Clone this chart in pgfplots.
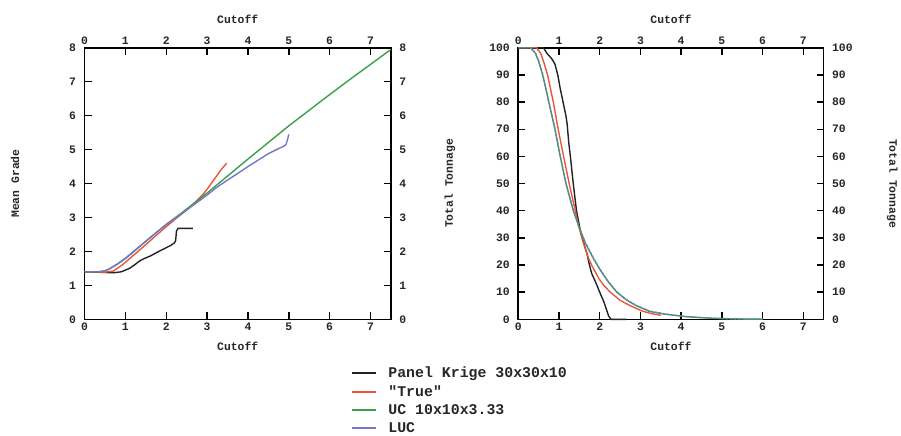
\documentclass[border=0pt]{standalone}
\usepackage{pgfplots}
\pgfplotsset{compat=1.18}
\usepackage{fontspec}
\setmainfont{Liberation Mono}
\setmonofont{Liberation Mono}
\definecolor{cblack}{RGB}{34,34,34}
\definecolor{cred}{RGB}{232,84,60}
\definecolor{cgreen}{RGB}{60,158,72}
\definecolor{cblue}{RGB}{118,118,200}
\pgfplotsset{
  base/.style={
    scale only axis, width=308bp, height=273bp,
    xmin=0, xmax=7.5,
    xtick={0,1,...,7},
    tick align=inside, major tick length=7bp,
    xtick pos=both, ytick pos=both,
    axis line style={line width=1.6bp, black},
    every tick/.style={line width=1.4bp, black},
    tick label style={font=\fontsize{11.5}{13}\selectfont\bfseries, text=black!85},
    yticklabel shift=5bp,
    /pgf/number format/assume math mode=true,
    clip=false,
  },
  labels2/.style={
    xticklabel pos=upper, yticklabel pos=right,
    axis line style={draw=none}, every tick/.style={draw=none},
  },
  every axis plot/.append style={line width=1.4bp},
}
\newcommand{\lab}{\fontsize{11.5}{13}\selectfont\bfseries}
\begin{document}
\begin{tikzpicture}
% ---------------- left panel ----------------
\begin{axis}[base, at={(85bp,112bp)}, anchor=south west,
  ymin=0, ymax=8, ytick={0,1,...,8},
  xticklabel pos=lower, yticklabel pos=left,
  legend style={at={(axis description cs:0.87,-0.17)}, anchor=north west,
    draw=none, fill=none, inner sep=0pt,
    font=\ttfamily\fontsize{15}{16}\selectfont\bfseries, text=black!85,
    row sep=3.5bp,
    nodes={inner sep=1.5bp},
    /tikz/every odd column/.append style={column sep=10bp}},
  legend cell align=left,
  legend image code/.code={\draw[#1, line width=1.8bp] (0bp,0bp) -- (24bp,0bp);},
]
\addplot[cblack] coordinates {(0,1.4)(0.5,1.38)(0.7,1.37)(0.9,1.4)(1.0,1.45)(1.1,1.5)(1.22,1.6)(1.35,1.72)(1.46,1.79)(1.6,1.86)(1.71,1.93)(1.85,2.02)(1.95,2.08)(2.1,2.17)(2.2,2.25)(2.23,2.32)(2.25,2.6)(2.29,2.68)(2.65,2.68)};
\addlegendentry{Panel Krige 30x30x10}
\addplot[cred] coordinates {(0,1.4)(0.5,1.39)(0.7,1.42)(0.9,1.58)(1.0,1.68)(1.25,1.94)(1.5,2.2)(1.75,2.47)(2.0,2.73)(2.25,2.98)(2.5,3.22)(2.75,3.5)(2.9,3.68)(3.0,3.83)(3.13,4.05)(3.25,4.25)(3.35,4.42)(3.48,4.6)};
\addlegendentry{"True"}
\addplot[cgreen] coordinates {(0,1.4)(0.35,1.4)(0.5,1.43)(0.6,1.48)(0.8,1.62)(1.0,1.79)(1.25,2.04)(1.5,2.3)(1.75,2.55)(2.0,2.8)(2.25,3.02)(2.5,3.25)(2.75,3.48)(3.0,3.72)(3.5,4.22)(4.0,4.72)(4.5,5.21)(5.0,5.7)(5.5,6.16)(6.0,6.62)(6.5,7.07)(7.0,7.51)(7.5,7.95)};
\addlegendentry{UC 10x10x3.33}
\addplot[cblue] coordinates {(0,1.4)(0.35,1.4)(0.5,1.43)(0.6,1.48)(0.8,1.63)(1.0,1.8)(1.25,2.05)(1.5,2.3)(1.75,2.55)(2.0,2.79)(2.25,3.0)(2.5,3.22)(2.75,3.44)(3.0,3.66)(3.25,3.9)(3.5,4.1)(3.75,4.3)(4.0,4.5)(4.25,4.69)(4.5,4.88)(4.75,5.03)(4.88,5.1)(4.93,5.15)(4.97,5.3)(5.0,5.45)};
\addlegendentry{LUC}
\node[font=\lab, text=black!85] at (axis description cs:0.5,1.103) {Cutoff};
\node[font=\lab, text=black!85] at (axis description cs:0.5,-0.099) {Cutoff};
\node[font=\lab, text=black!85, rotate=90] at (axis description cs:-0.227,0.5) {Mean Grade};
\end{axis}
\begin{axis}[base, labels2, at={(85bp,112bp)}, anchor=south west,
  ymin=0, ymax=8, ytick={0,1,...,8}]
\end{axis}
% ---------------- right panel ----------------
\begin{axis}[base, at={(521bp,112bp)}, anchor=south west, width=307bp,
  ymin=0, ymax=100, ytick={0,10,...,100},
  xticklabel pos=lower, yticklabel pos=left]
\addplot[cblack] coordinates {(0,100)(0.62,100)(0.7,98)(0.82,96)(0.9,94)(0.97,90)(1.03,85)(1.1,80)(1.17,75)(1.2,72)(1.24,65)(1.28,60)(1.35,50)(1.43,40)(1.52,33)(1.6,28.5)(1.69,24)(1.74,20.5)(1.8,17)(1.93,12.6)(2.0,10)(2.1,6.5)(2.18,3)(2.22,1.2)(2.28,0)(2.65,0)};
\addplot[cred] coordinates {(0,100)(0.45,100)(0.55,98)(0.62,95)(0.72,90)(0.86,80)(0.98,70)(1.1,61)(1.14,58)(1.25,50)(1.37,42)(1.47,35)(1.58,29)(1.73,22.3)(1.8,20)(1.98,15)(2.1,12.5)(2.26,10)(2.5,7)(2.75,5)(3.05,3)(3.3,2)(3.5,1.5)};
\addplot[cgreen] coordinates {(0,100)(0.3,100)(0.42,98)(0.5,95)(0.6,90)(0.75,80)(0.9,70)(1.03,60)(1.17,50)(1.35,40)(1.53,32.5)(1.65,28)(1.85,22.3)(2.0,18.5)(2.2,14)(2.42,10)(2.65,7.2)(2.9,5)(3.23,2.9)(3.6,1.9)(4.1,1)(4.6,0.5)(5.0,0.25)(5.5,0.1)(6.0,0.05)};
\addplot[cblue, dash pattern=on 2bp off 2bp] coordinates {(0,100)(0.3,100)(0.42,98.2)(0.5,95.3)(0.6,90.3)(0.75,80.3)(0.9,70.3)(1.03,60.3)(1.17,50.2)(1.35,40.2)(1.53,32.6)(1.65,28.1)(1.85,22.4)(2.0,18.6)(2.2,14.1)(2.42,10.1)(2.65,7.3)(2.9,5.1)(3.23,3)(3.6,2)(4.1,1.05)(4.6,0.55)(5.0,0.3)(5.5,0.12)(6.0,0.06)};
\node[font=\lab, text=black!85] at (axis description cs:0.5,1.103) {Cutoff};
\node[font=\lab, text=black!85] at (axis description cs:0.5,-0.099) {Cutoff};
\node[font=\lab, text=black!85, rotate=90] at (axis description cs:-0.224,0.5) {Total Tonnage};
\node[font=\lab, text=black!85, rotate=-90] at (axis description cs:1.225,0.5) {Total Tonnage};
\end{axis}
\begin{axis}[base, labels2, at={(521bp,112bp)}, anchor=south west, width=307bp,
  ymin=0, ymax=100, ytick={0,10,...,100}]
\end{axis}
\path[use as bounding box] (0bp,0bp) rectangle (901bp,433bp);
\end{tikzpicture}
\end{document}
